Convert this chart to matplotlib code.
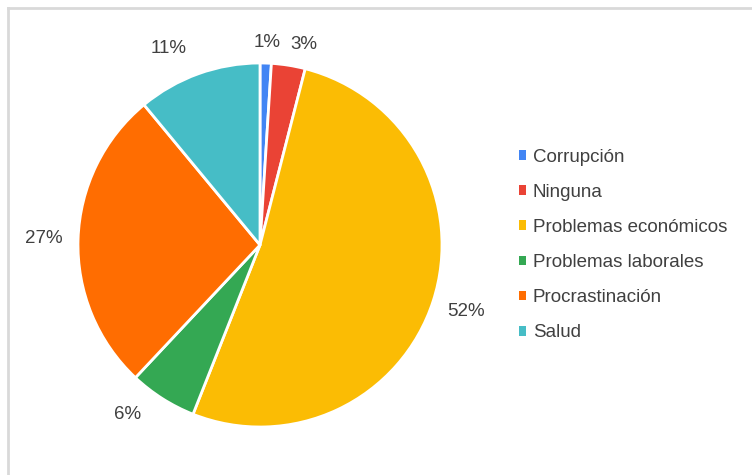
import matplotlib
matplotlib.use("Agg")
import matplotlib.pyplot as plt
from matplotlib.lines import Line2D

# Motivos reportados (porcentaje de respuestas)
categorias = [
    "Corrupción",
    "Ninguna",
    "Problemas económicos",
    "Problemas laborales",
    "Procrastinación",
    "Salud",
]
valores = [1, 3, 52, 6, 27, 11]
colores = ["#4285F4", "#EA4335", "#FBBC04", "#34A853", "#FF6D01", "#46BDC6"]

plt.rcParams["font.family"] = ["Liberation Sans", "DejaVu Sans"]
TEXT = "#404040"

W, H = 752, 475
fig = plt.figure(figsize=(W / 100, H / 100), dpi=100)
fig.patch.set_facecolor("white")

# pie centre (260, 245) px, radius 182 px
cx, cy, r = 260, 245, 182
ax = fig.add_axes([(cx - r) / W, (H - cy - r) / H, 2 * r / W, 2 * r / H])

wedges, _, autotexts = ax.pie(
    valores,
    colors=colores,
    startangle=90,
    counterclock=False,
    autopct=lambda p: f"{p:.0f}%",
    pctdistance=1.19,
    wedgeprops=dict(edgecolor="white", linewidth=2),
    textprops=dict(color=TEXT, fontsize=13.5),
)
ax.set_aspect("equal")
ax.set_xlim(-1, 1)
ax.set_ylim(-1, 1)
ax.axis("off")

# nudge outside labels so the small slices at the top don't collide
autotexts[0].set_position((0.04, 1.11))
autotexts[1].set_position((0.24, 1.10))
autotexts[3].set_position((-0.73, -0.93))
autotexts[5].set_position((-0.50, 1.08))

leg = fig.legend(
    wedges,
    categorias,
    loc="center left",
    bbox_to_anchor=(502 / W, (H - 245) / H),
    frameon=False,
    fontsize=13.5,
    handlelength=0.4,
    handleheight=0.4,
    handletextpad=0.35,
    labelspacing=0.97,
)
for t in leg.get_texts():
    t.set_color(TEXT)
for h in leg.legend_handles:
    h.set_linewidth(0)

# light grey frame along the top and left edges
grey = "#d9d9d9"
fig.add_artist(Line2D([8 / W, 1], [1 - 8 / H, 1 - 8 / H], color=grey, lw=2,
                      transform=fig.transFigure))
fig.add_artist(Line2D([8 / W, 8 / W], [0, 1 - 8 / H], color=grey, lw=2,
                      transform=fig.transFigure))

fig.savefig("out.png", dpi=100)
